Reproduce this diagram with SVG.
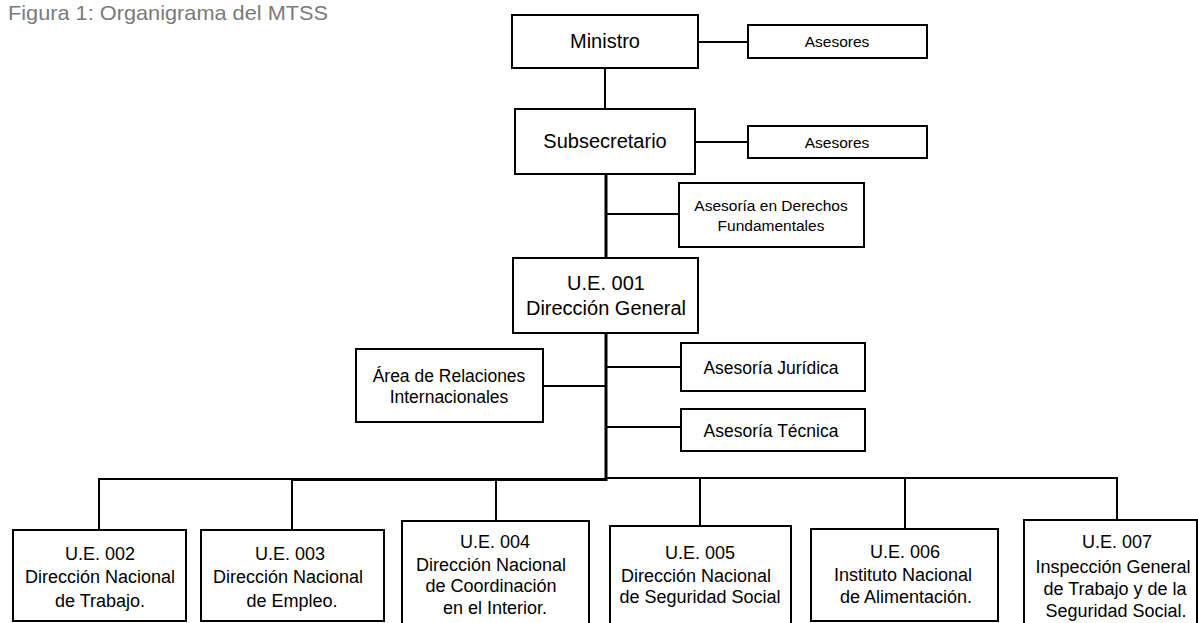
<svg xmlns="http://www.w3.org/2000/svg" width="1198" height="623" viewBox="0 0 1198 623">
<style>
.box{fill:#fff;stroke:#000;stroke-width:2}
.t{font-family:"Liberation Sans",Arial,sans-serif;fill:#000;text-anchor:middle}
.c{stroke:#000;stroke-width:2;fill:none}
.ct{stroke:#000;stroke-width:3;fill:none}
</style>
<rect width="1198" height="623" fill="#fff"/>
<text x="8" y="20" font-family="'Liberation Sans',Arial,sans-serif" font-size="21" fill="#7a7a7a" textLength="320" lengthAdjust="spacingAndGlyphs">Figura 1: Organigrama del MTSS</text>
<g id="connectors">
<line class="c" x1="605" y1="68" x2="605" y2="109"/>
<line class="c" x1="698" y1="42" x2="748" y2="42"/>
<line class="c" x1="695" y1="142" x2="748" y2="142"/>
<line class="ct" x1="606" y1="174" x2="606" y2="258"/>
<line class="c" x1="606" y1="214" x2="679" y2="214"/>
<line class="ct" x1="606" y1="333" x2="606" y2="481"/>
<line class="c" x1="543" y1="386" x2="606" y2="386"/>
<line class="c" x1="606" y1="367" x2="681" y2="367"/>
<line class="c" x1="606" y1="427" x2="681" y2="427"/>
<line class="c" x1="99" y1="479" x2="292" y2="479"/>
<line class="ct" x1="292" y1="479.5" x2="607" y2="479.5"/>
<line class="c" x1="606" y1="478" x2="1118" y2="478"/>
<line class="c" x1="99" y1="478" x2="99" y2="530"/>
<line class="c" x1="292" y1="478" x2="292" y2="530"/>
<line class="c" x1="496" y1="479" x2="496" y2="521"/>
<line class="c" x1="700" y1="478" x2="700" y2="526"/>
<line class="c" x1="905" y1="478" x2="905" y2="529"/>
<line class="c" x1="1117" y1="477" x2="1117" y2="520"/>
</g>
<g id="ministro"><rect class="box" x="512" y="15" width="186" height="53"/><text class="t" x="605" y="48" font-size="20">Ministro</text></g>
<g id="asesores1"><rect class="box" x="748" y="25" width="179" height="33"/><text class="t" x="837" y="47" font-size="15.5">Asesores</text></g>
<g id="subsecretario"><rect class="box" x="515" y="109" width="180" height="65"/><text class="t" x="605" y="148" font-size="20">Subsecretario</text></g>
<g id="asesores2"><rect class="box" x="748" y="126" width="179" height="32"/><text class="t" x="837" y="148" font-size="15.5">Asesores</text></g>
<g id="derechos"><rect class="box" x="679" y="183" width="185" height="64"/><text class="t" x="771" y="211" font-size="15.5">Asesoría  en Derechos</text><text class="t" x="771" y="231" font-size="15.5">Fundamentales</text></g>
<g id="ue001"><rect class="box" x="513" y="258" width="185" height="75"/><text class="t" x="606" y="290" font-size="20">U.E. 001</text><text class="t" x="606" y="315" font-size="20">Dirección General</text></g>
<g id="relaciones"><rect class="box" x="356" y="349" width="187" height="73"/><text class="t" x="449" y="382" font-size="17.5">Área de Relaciones</text><text class="t" x="449" y="403" font-size="17.5">Internacionales</text></g>
<g id="juridica"><rect class="box" x="681" y="343" width="184" height="48"/><text class="t" x="771" y="374" font-size="17.5">Asesoría Jurídica</text></g>
<g id="tecnica"><rect class="box" x="681" y="409" width="184" height="42"/><text class="t" x="771" y="437" font-size="17.5">Asesoría Técnica</text></g>
<g id="ue002"><rect class="box" x="13" y="530" width="173" height="91"/><text class="t" x="100" y="560" font-size="18">U.E. 002</text><text class="t" x="100" y="583" font-size="18">Dirección Nacional</text><text class="t" x="100" y="607" font-size="18">de Trabajo.</text></g>
<g id="ue003"><rect class="box" x="201" y="530" width="183" height="91"/><text class="t" x="290" y="560" font-size="18">U.E. 003</text><text class="t" x="288" y="583" font-size="18">Dirección Nacional</text><text class="t" x="292" y="607" font-size="18">de Empleo.</text></g>
<g id="ue004"><rect class="box" x="402" y="521" width="187" height="106"/><text class="t" x="495" y="548" font-size="18">U.E. 004</text><text class="t" x="491" y="571" font-size="18">Dirección Nacional</text><text class="t" x="491" y="592" font-size="18">de Coordinación</text><text class="t" x="495" y="614" font-size="18">en el Interior.</text></g>
<g id="ue005"><rect class="box" x="610" y="526" width="181" height="101"/><text class="t" x="700" y="559" font-size="18">U.E. 005</text><text class="t" x="696" y="582" font-size="18">Dirección Nacional</text><text class="t" x="700" y="603" font-size="18">de Seguridad  Social</text></g>
<g id="ue006"><rect class="box" x="811" y="529" width="187" height="92"/><text class="t" x="905" y="558" font-size="18">U.E. 006</text><text class="t" x="903" y="581" font-size="18">Instituto Nacional</text><text class="t" x="906" y="603" font-size="18">de Alimentación.</text></g>
<g id="ue007"><rect class="box" x="1024" y="520" width="173" height="107"/><text class="t" x="1117" y="548" font-size="18">U.E. 007</text><text class="t" x="1113" y="573" font-size="18">Inspección General</text><text class="t" x="1115" y="595" font-size="18">de Trabajo y de la</text><text class="t" x="1116" y="617" font-size="18">Seguridad Social.</text></g>
</svg>
